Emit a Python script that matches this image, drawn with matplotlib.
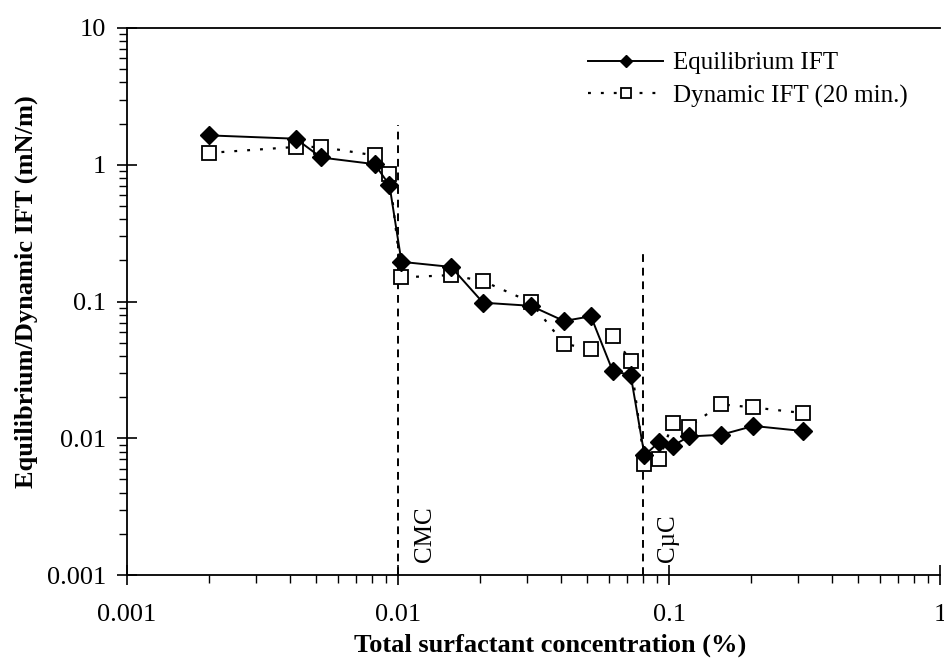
import numpy as np
import matplotlib
matplotlib.use('Agg')
import matplotlib.pyplot as plt
from matplotlib.ticker import LogLocator, FuncFormatter, NullFormatter

# surfactant concentration (%) shared by both series
conc = [0.0020, 0.0042, 0.0052, 0.0082, 0.0093, 0.0103, 0.0157, 0.0206,
        0.0309, 0.0410, 0.0515, 0.0620, 0.0722, 0.0812, 0.0920, 0.1033,
        0.1183, 0.1555, 0.2050, 0.3110]

# interfacial tension (mN/m)
ift_equilibrium = [1.64, 1.55, 1.13, 1.01, 0.71, 0.195, 0.179, 0.098,
                   0.093, 0.072, 0.078, 0.031, 0.029, 0.0075, 0.0094,
                   0.0088, 0.0103, 0.0106, 0.0123, 0.0113]
ift_dynamic = [1.22, 1.35, 1.35, 1.17, 0.85, 0.150, 0.156, 0.141,
               0.099, 0.049, 0.045, 0.056, 0.037, 0.0065, 0.0070,
               0.0130, 0.0121, 0.0177, 0.0168, 0.0153]

# reference concentrations and heights of the marker lines
cmc_x, cmc_top = 0.0100, 1.95
cuc_x, cuc_top = 0.0800, 0.24

plt.rcParams['font.family'] = 'Liberation Serif'

fig = plt.figure(figsize=(9.44, 6.59), dpi=100)
ax = fig.add_axes([127 / 944, 84 / 659, 813 / 944, 547 / 659])

ax.plot(conc, ift_equilibrium, '-', color='black', lw=1.4,
        marker='D', ms=9, mfc='black', mec='black',
        label='Equilibrium IFT', zorder=4)
ax.plot(conc, ift_dynamic, color='black', lw=1.6, ls=(0, (1.3, 4.5)),
        marker='s', ms=10, mfc='white', mec='black', mew=1.3,
        label='Dynamic IFT (20 min.)', zorder=3)

ax.plot([cmc_x, cmc_x], [0.001, cmc_top], color='black', lw=1.4,
        ls=(0, (4, 3)), zorder=2)
ax.plot([cuc_x, cuc_x], [0.001, cuc_top], color='black', lw=1.4,
        ls=(0, (4, 3)), zorder=2)
ax.text(cmc_x * 1.15, 0.00125, 'CMC', rotation=90, fontsize=18,
        ha='left', va='bottom')
ax.text(cuc_x * 1.13, 0.00125, 'C\u00b5C', rotation=90, fontsize=18,
        ha='left', va='bottom')

ax.set_xscale('log')
ax.set_yscale('log')
ax.set_xlim(0.001, 1)
ax.set_ylim(0.001, 10)

fmt = FuncFormatter(lambda v, p: f'{v:g}')
for axis in (ax.xaxis, ax.yaxis):
    axis.set_major_locator(LogLocator(base=10))
    axis.set_minor_locator(LogLocator(base=10, subs=np.arange(2, 10)))
    axis.set_major_formatter(fmt)
    axis.set_minor_formatter(NullFormatter())

ax.tick_params(which='major', direction='inout', length=14, width=1.2,
               labelsize=19, top=False, right=False)
ax.tick_params(which='minor', direction='out', length=6, width=1.0,
               top=False, right=False)
ax.tick_params(axis='x', which='major', pad=14)
ax.tick_params(axis='y', which='major', pad=8)
for s in ax.spines.values():
    s.set_linewidth(1.3)
ax.spines['right'].set_visible(False)

ax.set_xlabel('Total surfactant concentration (%)', fontsize=19,
              fontweight='bold', va='baseline')
ax.xaxis.set_label_coords((550 - 127) / 813, (575 - 652) / 547)
ax.set_ylabel('Equilibrium/Dynamic IFT (mN/m)', fontsize=19,
              fontweight='bold')
ax.yaxis.set_label_coords((38 - 127) / 813, (575 - 292) / 547)

ax.legend(loc='upper left', frameon=False, fontsize=18, handlelength=3.0,
          markerscale=0.7, bbox_to_anchor=(588 / 944, 1 - 52 / 659),
          bbox_transform=fig.transFigure, borderpad=0, borderaxespad=0,
          labelspacing=0.4, handletextpad=0.4)

fig.savefig('out.png', dpi=100)
